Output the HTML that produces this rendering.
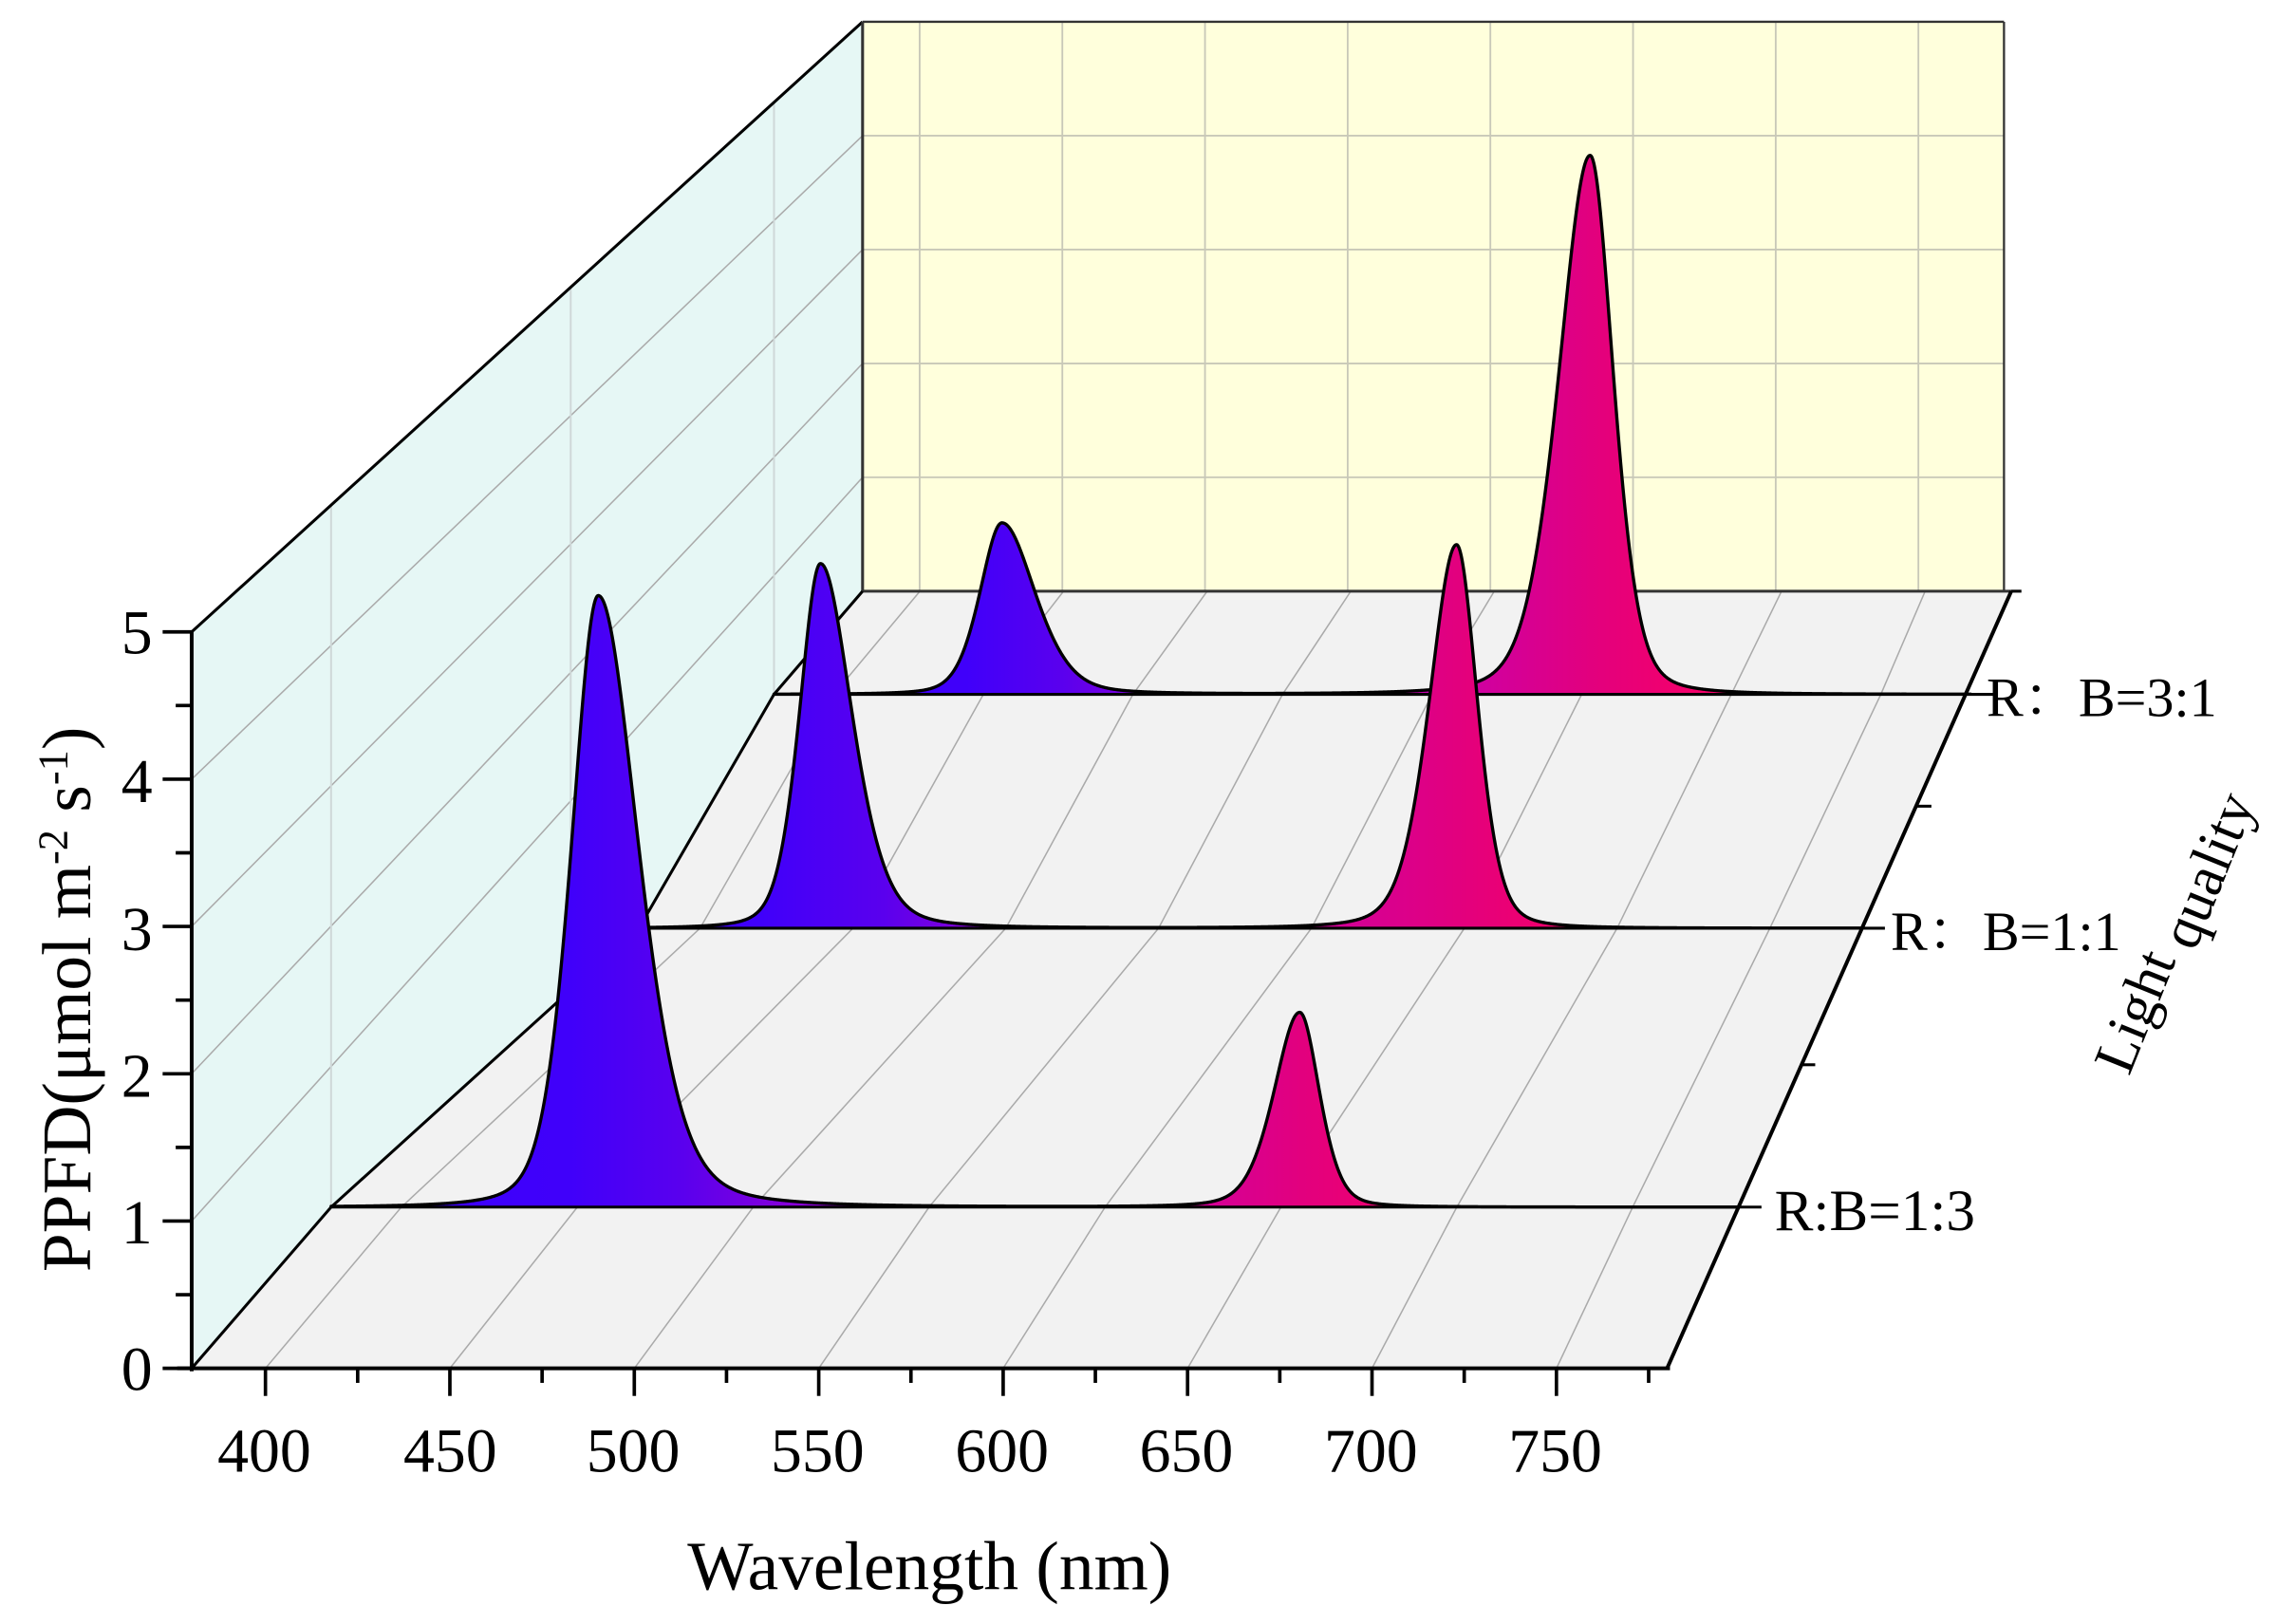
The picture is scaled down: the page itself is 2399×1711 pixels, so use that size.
<!DOCTYPE html>
<html><head><meta charset="utf-8"><style>
html,body{margin:0;padding:0;background:#fff;}
svg{display:block;}
text{font-family:"Liberation Serif","Noto Serif CJK SC",serif;fill:#000;}
</style></head><body>
<svg id="s" xmlns="http://www.w3.org/2000/svg" width="2399" height="1711" viewBox="0 0 1568 1118" preserveAspectRatio="none">
<defs>
<linearGradient id="g1" gradientUnits="userSpaceOnUse" x1="228" y1="0" x2="1197" y2="0">
<stop offset="0" stop-color="#3a00ff"/><stop offset="0.17" stop-color="#4000fa"/><stop offset="0.25" stop-color="#5a00ee"/><stop offset="0.33" stop-color="#8800d8"/><stop offset="0.58" stop-color="#cc00a6"/><stop offset="0.69" stop-color="#e2007e"/><stop offset="0.78" stop-color="#f5006a"/><stop offset="1" stop-color="#ff0060"/>
</linearGradient>
<linearGradient id="g2" gradientUnits="userSpaceOnUse" x1="440" y1="0" x2="1282" y2="0">
<stop offset="0" stop-color="#3a00ff"/><stop offset="0.1" stop-color="#4000fa"/><stop offset="0.2" stop-color="#5a00ee"/><stop offset="0.28" stop-color="#8800d8"/><stop offset="0.52" stop-color="#cc00a6"/><stop offset="0.67" stop-color="#e2007e"/><stop offset="0.76" stop-color="#f5006a"/><stop offset="1" stop-color="#ff0060"/>
</linearGradient>
<linearGradient id="g3" gradientUnits="userSpaceOnUse" x1="533" y1="0" x2="1360" y2="0">
<stop offset="0" stop-color="#3a00ff"/><stop offset="0.16" stop-color="#4000fa"/><stop offset="0.24" stop-color="#5a00ee"/><stop offset="0.32" stop-color="#8800d8"/><stop offset="0.57" stop-color="#cc00a6"/><stop offset="0.68" stop-color="#e2007e"/><stop offset="0.77" stop-color="#f5006a"/><stop offset="1" stop-color="#ff0060"/>
</linearGradient>
</defs>
<g id="bg"></g>
<g id="ser"></g>
<g id="ax"></g>
<text x="182" y="1013" font-size="43" text-anchor="middle">400</text>
<text x="310" y="1013" font-size="43" text-anchor="middle">450</text>
<text x="436" y="1013" font-size="43" text-anchor="middle">500</text>
<text x="563" y="1013" font-size="43" text-anchor="middle">550</text>
<text x="690" y="1013" font-size="43" text-anchor="middle">600</text>
<text x="817" y="1013" font-size="43" text-anchor="middle">650</text>
<text x="944" y="1013" font-size="43" text-anchor="middle">700</text>
<text x="1071" y="1013" font-size="43" text-anchor="middle">750</text>
<text x="105" y="957" font-size="43" text-anchor="end">0</text>
<text x="105" y="856" font-size="43" text-anchor="end">1</text>
<text x="105" y="755" font-size="43" text-anchor="end">2</text>
<text x="105" y="654" font-size="43" text-anchor="end">3</text>
<text x="105" y="552" font-size="43" text-anchor="end">4</text>
<text x="105" y="450" font-size="43" text-anchor="end">5</text>
<text x="640" y="1094" font-size="48" text-anchor="middle">Wavelength (nm)</text>
<text transform="translate(62,688) rotate(-90)" font-size="48" text-anchor="middle">PPFD(μmol m<tspan dy="-16" font-size="29">-2</tspan><tspan dy="16"> s</tspan><tspan dy="-16" font-size="29">-1</tspan><tspan dy="16">)</tspan></text>
<text x="1222" y="847" font-size="40">R:B=1:3</text>
<text x="1302" y="654" font-size="38">R：B=1:1</text>
<text x="1368" y="493" font-size="38">R：B=3:1</text>
<text transform="translate(1505,645) rotate(-68)" font-size="40" text-anchor="middle">Light <tspan dy="10">quality</tspan></text>
</svg>
<script>
var NS="http://www.w3.org/2000/svg";
function el(p,t,a){var e=document.createElementNS(NS,t);for(var k in a)e.setAttribute(k,a[k]);document.getElementById(p).appendChild(e);return e;}
var L=[[132,1148,942,101.4],[228,1197,831,96.6],[440,1282,639,96.8],[533,1357,478,81.5],[594,1385,407,78.4]];
function xm(l,wl){return l[0]+(wl-380)/400*(l[1]-l[0]);}
function pts(a){return a.map(function(p){return p[0].toFixed(1)+","+p[1].toFixed(1)}).join(" ");}
var lw=[[132,435],[594,15],[594,407]];for(var i=3;i>=0;i--)lw.push([L[i][0],L[i][2]]);
el("bg","polygon",{points:pts(lw),fill:"#e6f7f5"});
el("bg","rect",{x:594,y:15,width:786,height:392,fill:"#ffffdc"});
var fl=[];for(i=0;i<5;i++)fl.push([L[i][0],L[i][2]]);fl.push([1385,407]);fl.push([1148,942]);
el("bg","polygon",{points:pts(fl),fill:"#f2f2f2"});
for(var wl=400;wl<=750;wl+=50){var x=594+(wl-380)/400*786;el("bg","line",{x1:x,y1:15,x2:x,y2:407,stroke:"#c8c8b8","stroke-width":1.2});}
for(var z=1;z<5;z++){var y=407-z*78.4;el("bg","line",{x1:594,y1:y,x2:1380,y2:y,stroke:"#c8c8b8","stroke-width":1.2});}
for(z=1;z<5;z++){el("bg","line",{x1:132,y1:942-z*101.4,x2:594,y2:407-z*78.4,stroke:"#aaaaaa","stroke-width":1});}
[228,393,533].forEach(function(x){var yt=435-(x-132)*420/462;var yb=x==228?831:(x==393?700:478);el("bg","line",{x1:x,y1:yb,x2:x,y2:yt,stroke:"#cfd8d8","stroke-width":1.3});});
for(wl=400;wl<=750;wl+=50){var a=[];for(i=0;i<5;i++)a.push([xm(L[i],wl),L[i][2]]);el("bg","polyline",{points:pts(a),fill:"none",stroke:"#aaaaaa","stroke-width":1});}
el("bg","line",{x1:132,y1:435,x2:594,y2:15,stroke:"#000","stroke-width":2});
el("bg","line",{x1:594,y1:15,x2:594,y2:407,stroke:"#333","stroke-width":2});
el("bg","line",{x1:594,y1:15,x2:1380,y2:15,stroke:"#333","stroke-width":1.5});
el("bg","line",{x1:1380,y1:15,x2:1380,y2:407,stroke:"#333","stroke-width":1.5});
el("bg","line",{x1:594,y1:407,x2:1385,y2:407,stroke:"#333","stroke-width":2});
var lp=[];for(i=0;i<5;i++)lp.push([L[i][0],L[i][2]]);
el("bg","polyline",{points:pts(lp),fill:"none",stroke:"#000","stroke-width":2});
var S=[
 {l:3,g:"g3",pk:[[690,118,19,1.0,1.5],[1095,371,20,1.35,1.0]]},
 {l:2,g:"g2",pk:[[565,251,18,1.0,1.5],[1003,264,18,1.3,1.0]]},
 {l:1,g:"g1",pk:[[412,421,23,1.0,1.5],[895,134,17,1.3,1.0]]}];
S.forEach(function(s){var l=L[s.l],x0=l[0],x1=l[1],yb=l[2];var d="M"+x0+","+yb;
 for(var x=x0;x<=x1;x+=0.5){var v=0;s.pk.forEach(function(p){var dx=x-p[0];var w=p[2]*(dx<0?p[3]:p[4]);var u=dx/w;v+=p[1]*(0.55*Math.exp(-0.6931*u*u)+0.45/Math.pow(1+u*u*0.8,1.5));});
  d+=" L"+x.toFixed(1)+","+(yb-v).toFixed(2);}
 d+=" L"+x1+","+yb+" Z";
 el("ser","path",{d:d,fill:"url(#"+s.g+")",stroke:"none"});
 el("ser","path",{d:d.replace(" Z",""),fill:"none",stroke:"#000","stroke-width":2.2,"stroke-linejoin":"round"});
 el("ser","line",{x1:x0,y1:yb,x2:x1+16,y2:yb,stroke:"#000","stroke-width":2});
});
el("ax","line",{x1:132,y1:435,x2:132,y2:944,stroke:"#000","stroke-width":2.6});
el("ax","line",{x1:122,y1:942,x2:1150,y2:942,stroke:"#000","stroke-width":2.6});
el("ax","line",{x1:1148,y1:942,x2:1385,y2:407,stroke:"#000","stroke-width":2.6});
el("ax","line",{x1:1385,y1:407,x2:1392,y2:407,stroke:"#000","stroke-width":2});
for(z=0;z<=10;z++){var y=942-z*50.7;el("ax","line",{x1:z%2?121:112,y1:y,x2:132,y2:y,stroke:"#000","stroke-width":2.4});}
for(wl=400;wl<=775;wl+=25){var x=xm(L[0],wl);el("ax","line",{x1:x,y1:942,x2:x,y2:wl%50?952:961,stroke:"#000","stroke-width":2.4});}
[[1240,733],[1320,555]].forEach(function(p){el("ax","line",{x1:p[0],y1:p[1],x2:p[0]+10,y2:p[1],stroke:"#000","stroke-width":2});});
</script>
</body></html>
